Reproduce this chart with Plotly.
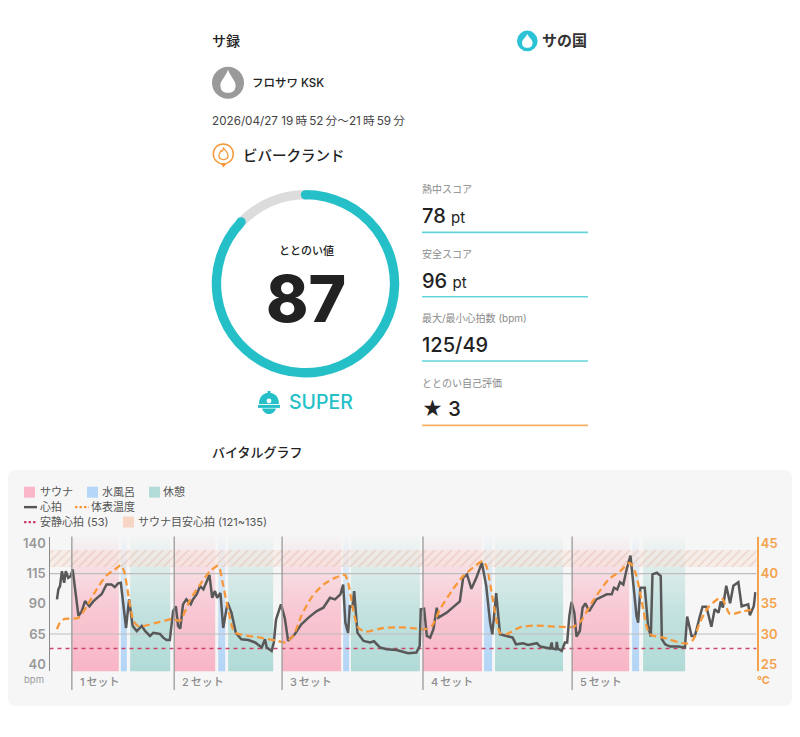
import plotly.graph_objects as go

# ---------- data ----------
hr_min = [0,.25,.55,.9,1.3,1.6,2.05,2.5,2.85,3.1,3.45,3.9,4.5,5.1,5.9,6.6,7.3,8.1,9,9.9,10.5,11.1,11.6,12,12.55,13.1,13.75,14.5,15.4,16,16.9,17.5,18.7,19.3,19.9,20.5,20.8,21.1,21.6,22,22.4,22.9,23.5,24.3,24.7,25.4,26,26.6,27.7,28.2,28.7,29.1,29.7,30.2,31,31.7,32.5,33.5,34.8,36,37.2,37.8,38.1,39,39.4,39.8,40.7,41.4,42,43.2,44.4,45.7,47.2,48.4,49.6,50.5,51.5,52,52.4,52.9,53.2,53.7,54,54.6,55.7,56.9,57.6,58.7,59.9,61.7,63.8,65.3,65.9,66.1,66.7,67.2,67.8,68.4,69,69.3,70.8,72.3,73.2,73.8,74.5,75.3,76.2,77.2,78,78.7,79.1,79.8,80.5,81.7,82.8,83.4,84.7,85.6,87.2,87.8,89.6,89.9,90,90.7,90.8,91,91.7,92.3,92.7,93.1,93.5,94,94.4,95,95.5,96,96.7,98,99.9,100.8,101.2,101.8,102.3,102.9,103.5,104.2,104.7,105.3,105.6,106,106.8,107.4,107.9,108.2,109,109.7,109.9,110.5,111.4,112.9,114.1,114.5,115.3,115.9,116.8,117.3,118,118.9,119.5,120.2,120.6,121,121.6,122.3,122.9,123.8,124.4,125.6,125.9,126.6,126.9]
hr_bpm = [93.7,102,104.7,117,107.5,117,111.6,113,118.5,109,93.7,80,84,92.3,88,92,95,98,106,106,104,107,107.5,91,70,93.7,71.7,67.5,71.7,67.5,63.4,66,65,62,60,60,71.7,84,88,71.7,69.5,89.6,93.7,89.6,93.7,98,104.7,102,114,95,100.6,95,99,70,91,82.7,66,60.7,60,58,53.8,60.7,53.8,51,58,77,89.6,78,59.3,64.8,73,78.6,84,86.8,95,93.7,97.9,106,74.4,66,88,87.7,100.6,66,59.3,58,59,53.8,52.4,51.8,49,49.6,55,85.5,86,63.4,62,69,86.8,78.6,82.7,88.8,92,111.6,114.4,102.5,111.6,124,104.7,74.4,64.8,99,64.8,63.4,62,56.5,57.4,56,57.4,54.6,53,58,53,52.4,58.5,53,51,58,58,80,91.5,82.7,62.9,67.5,86.8,90.4,84,93.7,97.9,97.9,103.4,102,108,106,118.5,130,107,80,74.4,103.4,103.4,71.7,62.9,114.4,115.8,113,60.7,56.5,54.6,54.6,53.8,79.5,63.4,63.4,79.5,87.7,87.7,71,85.5,82.7,92,87,105,90.5,105,108,88,89.6,80.5,88,99.8]
temp_min = [0,.55,1.4,3.9,5.4,7.2,9,10.5,11.6,12.2,13,13.9,14.8,18.7,21.1,22.3,24.2,26,27.8,29.3,30.1,31.1,32.3,36.9,39.9,41.4,42.9,44.4,46.2,48.4,50.5,52.3,52.9,53.8,54.7,56,59.3,62.9,65.3,66.9,68.1,69.6,71.7,73.8,75.6,77.3,78,79.2,80.5,81.7,84.1,86.6,91.4,93.8,95,97.4,100.2,102.3,104.1,105.2,106.2,107.7,110.2,114.4,115.6,116.8,118.4,120.7,122.3,124.4,126.8]
temp_c = [30.8,31.9,32.5,32.7,34.6,37.4,39.7,40.7,41.4,40.4,36.3,32.2,31.3,32,32.5,32.2,35.7,38.2,40.4,41.3,38.5,34.1,30.3,29.4,28.9,28.6,29.7,33,36,38.2,39.3,39.8,38.5,34.1,31.1,30.4,31,31.1,30.9,30.8,31.3,34.1,37.1,39.6,41,42.1,41.3,35.7,30.2,30,31.1,31.4,31.2,31.2,31.9,35.5,39,40.4,41.8,39.9,35.7,30,29.4,28.4,29.1,31.9,34.5,36,33.3,33.7,34.1]
sauna_min = [(2.7,11.2),(21.3,28.7),(40.9,51.6),(66.5,77.2),(93.6,103.9)]
water_min = [(11.6,12.7),(29.3,30.5),(52.0,53.1),(77.6,79.0),(104.5,105.7)]
rest_min = [(13.3,20.5),(31.1,39.2),(53.4,66.0),(79.6,91.9),(106.5,114.1)]
set_labels = ["1\u2009セット","2\u2009セット","3\u2009セット","4\u2009セット","5\u2009セット"]
bpm_ticks = [40,65,90,115,140]
temp_ticks = [25,30,35,40,45]
resting_hr = 53
target_hr = (121,135)
gauge_value = [87,13]
scores = [("熱中スコア","78","pt"),("安全スコア","96","pt"),("最大/最小心拍数 (bpm)","125/49",""),("ととのい自己評価","★ 3","")]

# ---------- geometry helpers ----------
W,H = 800,737
X = lambda p: p/W
Y = lambda p: 1-p/H
FONT = "Inter, 'Noto Sans CJK JP', sans-serif"
TEAL = "#25bfc8"
ORANGE = "#f59a3c"
GREY = "#999999"
x_range = [-1.36,127.1]
y_range = [34.2,145.8]
t_range = [23.84,46.16]

fig = go.Figure()

def band(spans,rgb,name):
    steps = 56
    lv = [y_range[0]+(y_range[1]-y_range[0])*i/(steps-1) for i in range(steps)]
    z = [[(v-y_range[0])/(y_range[1]-y_range[0])] for v in lv]
    scale = [[0,f"rgba({rgb},1)"],[.45,f"rgba({rgb},.72)"],[.8,f"rgba({rgb},.32)"],[1,f"rgba({rgb},.03)"]]
    for a,b in spans:
        fig.add_trace(go.Heatmap(x=[a,b],y=lv,z=z,zmin=0,zmax=1,colorscale=scale,showscale=False,
                                 hoverinfo="skip",name=name,xaxis="x",yaxis="y"))

band(sauna_min,"248,181,197","サウナ")
band(water_min,"178,212,246","水風呂")
band(rest_min,"176,218,214","休憩")

fig.add_trace(go.Bar(x=[(x_range[0]+x_range[1])/2],width=[x_range[1]-x_range[0]],base=[target_hr[0]],
                     y=[target_hr[1]-target_hr[0]],name="サウナ目安心拍",hoverinfo="skip",
                     marker=dict(color="rgba(246,222,212,.5)",line_width=0,
                                 pattern=dict(shape="/",size=6,solidity=.2,fgcolor="rgba(214,160,140,.75)",
                                              bgcolor="rgba(246,226,218,.45)"))))
for g in (65,115):
    fig.add_trace(go.Scatter(x=x_range,y=[g,g],mode="lines",line=dict(color="#bdbdbd",width=1.2),
                             hoverinfo="skip",showlegend=False))
fig.add_trace(go.Scatter(x=x_range,y=[resting_hr,resting_hr],mode="lines",name="安静心拍",
                         line=dict(color="#c9436b",width=1.7,dash="4px,4px"),hoverinfo="skip"))
fig.add_trace(go.Scatter(x=hr_min,y=hr_bpm,mode="lines",name="心拍",line=dict(color="#585858",width=2.5)))
fig.add_trace(go.Scatter(x=temp_min,y=temp_c,mode="lines",name="体表温度",yaxis="y2",
                         line=dict(color="#f7983a",width=2.3,dash="7px,4px",shape="spline",smoothing=.7)))

fig.add_trace(go.Pie(values=gauge_value,hole=.9,sort=False,direction="clockwise",rotation=0,
                     marker=dict(colors=[TEAL,"#dcdcdc"],line_width=0),textinfo="none",hoverinfo="skip",
                     showlegend=False,domain=dict(x=[X(211.5),X(399.5)],y=[Y(377.5),Y(189.5)])))

shapes = []
def rect(x0,y0,x1,y1,fill,layer="above"):
    shapes.append(dict(type="rect",xref="paper",yref="paper",x0=X(x0),x1=X(x1),y0=Y(y0),y1=Y(y1),
                       fillcolor=fill,line_width=0,layer=layer))
def circ(cx,cy,r,fill,line=None,lw=0):
    shapes.append(dict(type="circle",xref="paper",yref="paper",x0=X(cx-r),x1=X(cx+r),y0=Y(cy+r),y1=Y(cy-r),
                       fillcolor=fill,line=dict(color=line or fill,width=lw)))
def hline(x0,x1,y,color,w,dash="solid"):
    shapes.append(dict(type="line",xref="paper",yref="paper",x0=X(x0),x1=X(x1),y0=Y(y),y1=Y(y),
                       line=dict(color=color,width=w,dash=dash)))
def path(cmds,fill=None,line=None,lw=0,layer="above"):
    out=""
    for c in cmds:
        out+=c[0]
        v=c[1:]
        out+=" ".join(f"{X(v[i]):.5f},{Y(v[i+1]):.5f}" for i in range(0,len(v),2))+" "
    d=dict(type="path",xref="paper",yref="paper",path=out.strip(),line=dict(color=line or "rgba(0,0,0,0)",width=lw),layer=layer)
    if fill: d["fillcolor"]=fill
    shapes.append(d)
def drop(cx,top,bottom,r,fill):
    cy=bottom-r
    path([("M",cx,top),("C",cx+r*.4,top+(cy-top)*.5,cx+r,cy-r*.55,cx+r,cy),
          ("C",cx+r,cy+r*.75,cx+r*.55,bottom,cx,bottom),("C",cx-r*.55,bottom,cx-r,cy+r*.75,cx-r,cy),
          ("C",cx-r,cy-r*.55,cx-r*.4,top+(cy-top)*.5,cx,top),("Z",)],fill=fill)

annotations=[]
def text(x,y,t,size=11,color="#222222",anchor="left",weight=400):
    annotations.append(dict(x=X(x),y=Y(y),xref="paper",yref="paper",text=t,showarrow=False,
                            xanchor=anchor,yanchor="middle",align=anchor,borderpad=0,xshift=-1 if anchor=="left" else 0,
                            font=dict(family=FONT,size=size,color=color,weight=weight)))

# panel
r=8; a,b,c,d=8,470,792,707
path([("M",a+r,b),("L",c-r,b),("Q",c,b,c,b+r),("L",c,d-r),("Q",c,d,c-r,d),("L",a+r,d),("Q",a,d,a,d-r),("L",a,b+r),("Q",a,b,a+r,b),("Z",)],
     fill="#f6f6f6",layer="below")

# header
text(212,40,"サ録",14,weight=500)
circ(527.3,40,10.3,"#2cc2d6")
drop(527.3,33,47,5.3,"#ffffff")
text(542,40,"サの国",15,"#333333",weight=700)
circ(228,82,16,"#9a9a9a")
drop(228,69,92,7.6,"#ffffff")
text(252,82,"フロサワ KSK",11.5,weight=500)
text(212,120,"2026/04/27 19\u2009時\u200952\u2009分～21\u2009時\u200959\u2009分",11.7,"#444444")
circ(223.3,153.3,10,"#ffffff",ORANGE,1.5)
path([("M",220,162.5),("L",223.5,167),("L",227,162.5),("Z",)],fill=ORANGE)
path([("M",223.5,147.5),("C",226,150,228,152,228,155),("C",228,158,225.5,159,223.5,159),("C",221,159,219,158,219,155),
      ("C",219,152.5,220.5,151.5,221,150),("C",222,151,222.5,151.5,223.5,147.5),("Z",)],fill=None,line=ORANGE,lw=1.3)
text(243,155,"ビバークランド",14.5,weight=500)

# gauge
text(306,251,"ととのい値",11,weight=500,anchor="center")
text(306,298,"87",64,"#222222",anchor="center",weight=800)
circ(305.5,194.4,4.7,TEAL)
circ(241,221.5,4.7,TEAL)
# helmet icon
path([("M",259,404),("C",259,397,263,393.5,267.5,393),("L",267.5,391),("L",270.5,391),("L",270.5,393),("C",275,393.5,279,397,279,404),("Z",)],fill=TEAL)
path([("M",258,405),("L",280,405),("L",280,408),("L",258,408),("Z",)],fill=TEAL)
path([("M",262,408.5),("C",263,412,266,414,269,414),("C",272,414,275,412,276,408.5),("Z",)],fill=TEAL)
circ(269,401,2.4,"#ffffff")
text(289,402,"SUPER",19.5,TEAL,weight=500)

# score column
ly=[189,254,318,383]; vy=[216,281,345,409]; uy=[232,296.5,361,425.5]
for i,(lab,val,unit) in enumerate(scores):
    text(422,ly[i],lab,10,"#8a8a8a")
    t=val+(f' <span style="font-size:15px;font-weight:400">{unit}</span>' if unit else "")
    text(422,vy[i],t,20,"#222222",weight=500)
    hline(422,588,uy[i],"#f7b067" if i==3 else "#63d5da",1.6)

text(212,452,"バイタルグラフ",13,weight=500)

# legend
rect(24,487,35,498,"#f9b7c9")
text(40,492.5,"サウナ",11,"#555555")
rect(87,487,98,498,"#b5d6f7")
text(102,492.5,"水風呂",11,"#555555")
rect(149,487,160,498,"#b3dcd8")
text(163,492.5,"休憩",11,"#555555")
hline(24,37,507.5,"#565656",2.4)
text(40,507.5,"心拍",11,"#555555")
hline(75,89,507.5,"#f5993a",2.2,"2.5px,2px")
text(91,507.5,"体表温度",11,"#555555")
hline(24,37,522.5,"#c9436b",2.2,"2.5px,2px")
text(40,522.5,"安静心拍 (53)",11,"#555555")
rect(123,517,134,528,"#f6d5c5")
text(138,522.5,"サウナ目安心拍 (121~135)",11,"#555555")

# set separators and labels
for (a_,b_),lab in zip(sauna_min,set_labels):
    shapes.append(dict(type="line",xref="x",yref="paper",x0=a_,x1=a_,y0=Y(691),y1=Y(537),line=dict(color="#9a9a9a",width=1.3)))
    annotations.append(dict(x=a_,y=Y(683),xref="x",yref="paper",xshift=7,text=lab,showarrow=False,xanchor="left",yanchor="middle",borderpad=0,
                            font=dict(family=FONT,size=11,color="#8c8c8c",weight=500)))

text(24,680,"bpm",9.5,GREY)
text(757,681,"°C",11,"#f5a24c",weight=700)

fig.update_layout(
    width=W,height=H,autosize=False,margin=dict(l=0,r=0,t=0,b=0),
    paper_bgcolor="#ffffff",plot_bgcolor="rgba(0,0,0,0)",showlegend=False,barmode="overlay",bargap=0,
    shapes=shapes,annotations=annotations,
    xaxis=dict(domain=[X(49.5),X(756.5)],range=x_range,visible=False,fixedrange=True),
    yaxis=dict(domain=[Y(672),Y(537)],range=y_range,tickvals=bpm_ticks,showgrid=False,zeroline=False,
               showline=True,linecolor="#8a8a8a",linewidth=1.3,ticks="",
               tickfont=dict(family=FONT,size=13,color=GREY,weight=600),fixedrange=True),
    yaxis2=dict(domain=[Y(672),Y(537)],range=t_range,tickvals=temp_ticks,overlaying="y",side="right",anchor="x",
                showgrid=False,zeroline=False,showline=True,linecolor="#f5a24c",linewidth=1.5,ticks="",
                tickfont=dict(family=FONT,size=13,color="#f5a24c",weight=600),fixedrange=True),
)

fig.write_html("out.html",config=dict(displayModeBar=False),
               post_script="document.body.style.margin='0';document.documentElement.style.overflow='hidden';")
